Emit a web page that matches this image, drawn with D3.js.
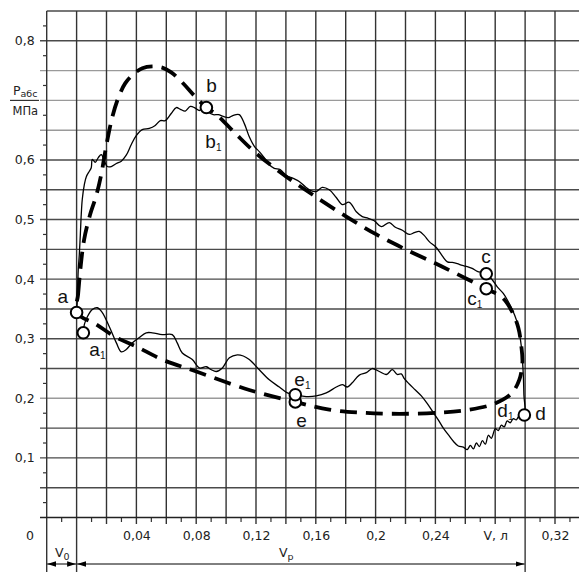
<!DOCTYPE html>
<html>
<head>
<meta charset="utf-8">
<script src="https://cdn.jsdelivr.net/npm/d3@7"></script>
<style>
body { margin: 0; background: #fff; }
svg { display: block; }
</style>
</head>
<body>
<svg width="579" height="572"></svg>
<script>
// theoretical cycle (dashed loop), [V, P]
var theory = [
  [0.000,0.344],[0.001,0.374],[0.0025,0.416],[0.005,0.466],[0.009,0.508],[0.013,0.539],
  [0.0165,0.576],[0.020,0.626],[0.024,0.673],[0.028,0.705],[0.0326,0.729],[0.038,0.744],
  [0.044,0.754],[0.0506,0.757],[0.0573,0.755],[0.0633,0.747],[0.0707,0.730],[0.0787,0.708],
  [0.0868,0.688],[0.0941,0.675],[0.1068,0.643],[0.1202,0.611],[0.1403,0.572],[0.1577,0.542],
  [0.1804,0.505],[0.2005,0.475],[0.2192,0.451],[0.2379,0.429],[0.2526,0.411],[0.274,0.384],
  [0.2848,0.369],[0.2914,0.345],[0.2955,0.318],[0.2975,0.287],[0.2982,0.260],[0.2961,0.231],
  [0.2908,0.208],[0.2794,0.191],[0.2627,0.181],[0.2426,0.176],[0.2159,0.174],[0.1911,0.176],
  [0.169,0.181],[0.1463,0.194],[0.1155,0.214],[0.0801,0.245],[0.0573,0.265],[0.0399,0.287],
  [0.0266,0.302],[0.0132,0.324]
];

// measured indicator diagram (solid), [V, P]
var measured = [
  [0.000,0.344],[0.0005,0.366],[0.0008,0.391],[0.0011,0.416],[0.0018,0.441],[0.0025,0.475],
  [0.0031,0.508],[0.0038,0.534],[0.0052,0.559],[0.0065,0.572],[0.0085,0.581],[0.0098,0.587],
  [0.0105,0.601],[0.0125,0.596],[0.0145,0.604],[0.0165,0.609],[0.0185,0.599],[0.0205,0.589],
  [0.0232,0.589],[0.0266,0.594],[0.0299,0.598],[0.0332,0.608],[0.0366,0.626],[0.0399,0.641],
  [0.0439,0.651],[0.0486,0.653],[0.0526,0.658],[0.056,0.666],[0.0593,0.666],[0.0633,0.678],
  [0.0667,0.688],[0.0694,0.685],[0.0727,0.682],[0.0761,0.690],[0.0794,0.687],[0.0821,0.683],
  [0.0848,0.688],[0.0881,0.680],[0.0914,0.676],[0.0948,0.676],[0.0981,0.673],[0.1015,0.671],
  [0.1048,0.675],[0.1088,0.676],[0.1122,0.661],[0.1155,0.639],[0.1189,0.623],[0.1222,0.614],
  [0.1255,0.604],[0.1289,0.592],[0.1322,0.586],[0.1362,0.584],[0.1403,0.574],[0.1449,0.569],
  [0.1489,0.564],[0.153,0.555],[0.1563,0.549],[0.1603,0.547],[0.1643,0.554],[0.169,0.550],
  [0.1737,0.537],[0.1777,0.525],[0.1824,0.529],[0.1871,0.513],[0.1911,0.505],[0.1951,0.502],
  [0.1991,0.498],[0.2038,0.488],[0.2092,0.495],[0.2132,0.487],[0.2179,0.482],[0.2225,0.475],
  [0.2259,0.478],[0.2292,0.480],[0.2326,0.473],[0.2359,0.463],[0.2406,0.453],[0.2446,0.439],
  [0.248,0.429],[0.2513,0.428],[0.2546,0.426],[0.258,0.423],[0.2613,0.421],[0.2646,0.418],
  [0.268,0.413],[0.2714,0.411],[0.274,0.409],[0.278,0.399],[0.2814,0.387],[0.2854,0.376],
  [0.2888,0.362],[0.2914,0.349],[0.2941,0.332],[0.2961,0.310],[0.2975,0.287],[0.2982,0.265],
  [0.2988,0.239],[0.2992,0.206],[0.2995,0.172],
  [0.2961,0.171],[0.2941,0.164],[0.2921,0.166],[0.290,0.159],[0.288,0.162],[0.286,0.152],
  [0.2841,0.155],[0.2821,0.146],[0.2801,0.149],[0.2774,0.133],[0.2754,0.138],[0.2734,0.123],
  [0.2714,0.129],[0.2694,0.119],[0.2674,0.125],[0.2654,0.115],[0.2634,0.121],[0.2613,0.114],
  [0.2587,0.118],[0.2553,0.120],[0.252,0.128],[0.2486,0.139],[0.2453,0.150],[0.2419,0.164],
  [0.2386,0.176],[0.2346,0.191],[0.2306,0.204],[0.2266,0.214],[0.2225,0.224],[0.2192,0.233],
  [0.2172,0.241],[0.2145,0.240],[0.2112,0.248],[0.2072,0.240],[0.2025,0.245],[0.1978,0.250],
  [0.1938,0.243],[0.1891,0.239],[0.1844,0.226],[0.1811,0.219],[0.1777,0.223],[0.1737,0.219],
  [0.167,0.209],[0.1603,0.204],[0.1536,0.203],[0.1463,0.206],[0.141,0.209],[0.1356,0.219],
  [0.1289,0.231],[0.1222,0.248],[0.1155,0.265],[0.1115,0.271],[0.1075,0.273],[0.1022,0.268],
  [0.0975,0.251],[0.0934,0.245],[0.0901,0.248],[0.0868,0.253],[0.0821,0.251],[0.0774,0.265],
  [0.0707,0.276],[0.0673,0.293],[0.064,0.307],[0.0573,0.307],[0.0506,0.310],[0.0466,0.310],
  [0.0419,0.302],[0.0372,0.293],[0.0332,0.282],[0.0299,0.278],[0.0266,0.293],[0.0219,0.320],
  [0.0172,0.344],[0.0139,0.352],[0.0105,0.349],[0.0072,0.337],[0.0052,0.324],[0.0045,0.310]
];

// marked points
var pointNames = ["a", "a1", "b", "c", "c1", "d", "e", "e1"];
var pointV = [0.000, 0.0045, 0.0868, 0.274, 0.274, 0.2995, 0.1463, 0.1463];
var pointP = [0.344, 0.310, 0.688, 0.409, 0.384, 0.172, 0.194, 0.206];

var labelNames = ["a", "a1", "b", "b1", "c", "c1", "d", "d1", "e", "e1"];

var xTicks = [0.04, 0.08, 0.12, 0.16, 0.20, 0.24, 0.28, 0.32];
var xTickLabels = ["0,04", "0,08", "0,12", "0,16", "0,2", "0,24", "V, л", "0,32"];
var yTicks = [0.1, 0.2, 0.3, 0.4, 0.5, 0.6, 0.8];
var yTickLabels = ["0,1", "0,2", "0,3", "0,4", "0,5", "0,6", "0,8"];

// label placement, px from the anchor circle (letter centre / baseline)
var labelPos = {
  a:  [-14, -10], a1: [11, 23], b: [5, -16], b1: [4, 40],
  c:  [0, -11],  c1: [-14, 16], d: [16, 5],  d1: [-22, 2],
  e:  [6, 25],   e1: [4, -9]
};

var svg = d3.select("svg"),
    width = +svg.attr("width"),
    height = +svg.attr("height");

var x = d3.scaleLinear().domain([-0.02, 0.34]).range([46.7, 584.9]);
var y = d3.scaleLinear().domain([0, 0.85]).range([517.5, 11]);

var axisFont = "'DejaVu Sans', Verdana, sans-serif";
var labelFont = "'Liberation Sans', Arial, sans-serif";

// horizontal grid
var light = [0.2, 0.65, 0.7, 0.75];
svg.append("g").selectAll("line")
    .data(d3.range(1, 18).map(function(i) { return i * 0.05; }))
    .enter().append("line")
    .attr("x1", function(d) { return d > 0.84 ? x(-0.02) : 40; })
    .attr("x2", width)
    .attr("y1", function(d) { return y(d); })
    .attr("y2", function(d) { return y(d); })
    .attr("stroke", function(d) {
        return light.some(function(l) { return Math.abs(l - d) < 1e-6; }) ? "#9a9a9a" : "#4a4a4a";
    })
    .attr("stroke-width", 1.4);

// minor y ticks
svg.append("g").selectAll("line")
    .data(d3.range(0, 17).map(function(i) { return 0.025 + i * 0.05; }))
    .enter().append("line")
    .attr("x1", 43).attr("x2", x(-0.02))
    .attr("y1", function(d) { return y(d); })
    .attr("y2", function(d) { return y(d); })
    .attr("stroke", "#333").attr("stroke-width", 1.2);

// vertical grid
svg.append("g").selectAll("line")
    .data(d3.range(0, 18).map(function(i) { return -0.02 + i * 0.02; }))
    .enter().append("line")
    .attr("x1", function(d) { return x(d); })
    .attr("x2", function(d) { return x(d); })
    .attr("y1", y(0.85))
    .attr("y2", function(d) {
        var ext = Math.abs(d + 0.02) < 1e-6 || Math.abs(d) < 1e-6 || Math.abs(d - 0.30) < 1e-6;
        return ext ? height : 524;
    })
    .attr("stroke", function(d) { return Math.abs(d - 0.30) < 1e-6 ? "#000" : "#333"; })
    .attr("stroke-width", function(d) { return Math.abs(d - 0.30) < 1e-6 ? 1.1 : 1.4; });

// minor x ticks
svg.append("g").selectAll("line")
    .data(d3.range(0, 18).map(function(i) { return -0.01 + i * 0.02; }))
    .enter().append("line")
    .attr("x1", function(d) { return x(d); })
    .attr("x2", function(d) { return x(d); })
    .attr("y1", y(0)).attr("y2", 522)
    .attr("stroke", "#333").attr("stroke-width", 1.2);

// x axis line
svg.append("line")
    .attr("x1", 40).attr("x2", width)
    .attr("y1", y(0)).attr("y2", y(0))
    .attr("stroke", "#222").attr("stroke-width", 1.6);

// axes labels
var gy = svg.append("g")
    .attr("transform", "translate(" + x(-0.02) + ",0)")
    .call(d3.axisLeft(y).tickValues(yTicks)
        .tickFormat(function(d, i) { return yTickLabels[i]; })
        .tickSize(0).tickPadding(12));
gy.select(".domain").remove();
gy.selectAll("text").attr("font-family", axisFont).attr("font-size", 12.5).attr("fill", "#222");

var gx = svg.append("g")
    .attr("transform", "translate(0," + y(0) + ")")
    .call(d3.axisBottom(x).tickValues(xTicks)
        .tickFormat(function(d, i) { return xTickLabels[i]; })
        .tickSize(0).tickPadding(14));
gx.select(".domain").remove();
gx.selectAll("text").attr("font-family", axisFont).attr("font-size", 12.5).attr("fill", "#222");

svg.append("text")
    .attr("x", 30).attr("y", 540)
    .attr("text-anchor", "middle")
    .attr("font-family", axisFont).attr("font-size", 12.5).attr("fill", "#222")
    .text("0");

// P / MPa fraction in place of 0,7
var py = y(0.7);
var pt = svg.append("text")
    .attr("x", 13).attr("y", py - 5)
    .attr("font-family", axisFont).attr("font-size", 12.5).attr("fill", "#222");
pt.append("tspan").text("P");
pt.append("tspan").attr("font-size", 9.5).attr("dy", 2).text("абс");
svg.append("line")
    .attr("x1", 10).attr("x2", 39)
    .attr("y1", py).attr("y2", py)
    .attr("stroke", "#222").attr("stroke-width", 1.1);
svg.append("text")
    .attr("x", 12.5).attr("y", py + 15)
    .attr("font-family", axisFont).attr("font-size", 11.5).attr("fill", "#222")
    .text("МПа");

// dimension arrows V0 and Vp
var arrowY = 564;
svg.append("defs").append("marker")
    .attr("id", "ah")
    .attr("viewBox", "0 0 10 6")
    .attr("refX", 10).attr("refY", 3)
    .attr("markerWidth", 9).attr("markerHeight", 6)
    .attr("markerUnits", "userSpaceOnUse")
    .attr("orient", "auto-start-reverse")
    .append("path").attr("d", "M0,0L10,3L0,6Z").attr("fill", "#000");

[[-0.02, 0], [0, 0.30]].forEach(function(r) {
    svg.append("line")
        .attr("x1", x(r[0]) + 0.5).attr("x2", x(r[1]) - 0.5)
        .attr("y1", arrowY).attr("y2", arrowY)
        .attr("stroke", "#000").attr("stroke-width", 1)
        .attr("marker-start", "url(#ah)")
        .attr("marker-end", "url(#ah)");
});

function dimLabel(cx, sub) {
    var t = svg.append("text")
        .attr("x", cx).attr("y", 557)
        .attr("font-family", axisFont).attr("font-size", 12.5).attr("fill", "#222");
    t.append("tspan").text("V");
    t.append("tspan").attr("font-size", 9.5).attr("dy", 3).text(sub);
}
dimLabel(55, "0");
dimLabel(279, "р");

// curves
var line = d3.line()
    .x(function(d) { return x(d[0]); })
    .y(function(d) { return y(d[1]); });

svg.append("path")
    .datum(theory)
    .attr("d", line.curve(d3.curveCatmullRomClosed.alpha(0.5)))
    .attr("fill", "none")
    .attr("stroke", "#000")
    .attr("stroke-width", 3.8)
    .attr("stroke-dasharray", "17,9");

svg.append("path")
    .datum(measured)
    .attr("d", line.curve(d3.curveCatmullRom.alpha(0.5)))
    .attr("fill", "none")
    .attr("stroke", "#000")
    .attr("stroke-width", 1.3);

// point markers
svg.append("g").selectAll("circle")
    .data(pointNames)
    .enter().append("circle")
    .attr("cx", function(d, i) { return x(pointV[i]); })
    .attr("cy", function(d, i) { return y(pointP[i]); })
    .attr("r", 5.8)
    .attr("fill", "#fff")
    .attr("stroke", "#000")
    .attr("stroke-width", 2);

// point labels
labelNames.forEach(function(name) {
    var letter = name.charAt(0),
        sub = name.slice(1),
        anchor = pointNames.indexOf(name) >= 0 ? name : letter,
        k = pointNames.indexOf(anchor),
        off = labelPos[name];
    var t = svg.append("text")
        .attr("x", x(pointV[k]) + off[0] - 5)
        .attr("y", y(pointP[k]) + off[1])
        .attr("font-family", labelFont)
        .attr("font-size", 19)
        .attr("fill", "#111");
    t.append("tspan").text(letter);
    if (sub) t.append("tspan").attr("font-size", 10).attr("dy", 3).text(sub);
});
</script>
</body>
</html>
